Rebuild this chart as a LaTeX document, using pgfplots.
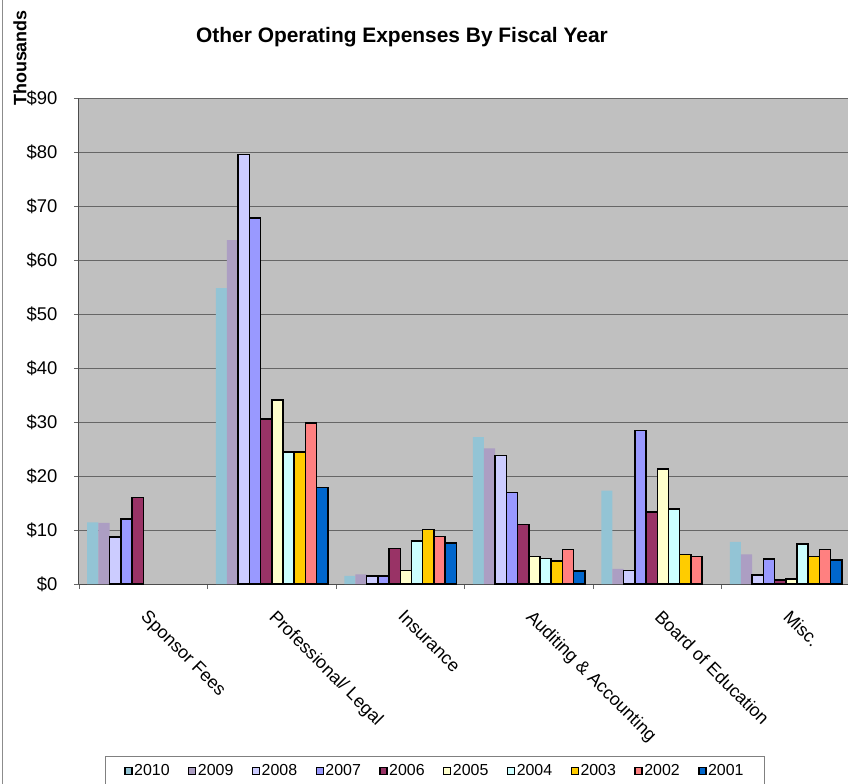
\documentclass[border=0pt]{standalone}
\usepackage{fontspec}
\setmainfont{Liberation Sans}
\usepackage{pgfplots}
\usepackage{pgfplotstable}
\pgfplotsset{compat=1.18}

\definecolor{c2010}{HTML}{93C4D5}
\definecolor{c2009}{HTML}{AC9EC3}
\definecolor{c2008}{HTML}{CCCCFF}
\definecolor{c2007}{HTML}{9999FF}
\definecolor{c2006}{HTML}{993366}
\definecolor{c2005}{HTML}{FFFFCC}
\definecolor{c2004}{HTML}{CCFFFF}
\definecolor{c2003}{HTML}{FFCC00}
\definecolor{c2002}{HTML}{FF8080}
\definecolor{c2001}{HTML}{0066CC}
\definecolor{plotbg}{HTML}{C0C0C0}

% thousands of dollars, one row per category
\pgfplotstableread{
cat y2010 y2009 y2008 y2007 y2006 y2005 y2004 y2003 y2002 y2001
0   11.4  11.3  8.7   12.0  16.0  nan   nan   nan   nan   nan
1   54.8  63.7  79.5  67.8  30.6  34.1  24.4  24.4  29.8  17.9
2   1.5   1.8   1.5   1.5   6.6   2.5   8.0   10.1  8.8   7.6
3   27.2  25.1  23.8  16.9  11.0  5.1   4.7   4.3   6.4   2.4
4   17.3  2.8   2.5   28.4  13.3  21.3  13.9  5.5   5.1   nan
5   7.8   5.5   1.7   4.6   0.7   0.9   7.4   5.1   6.4   4.4
}\expenses

\begin{document}
\begin{tikzpicture}[x=1bp,y=1bp]
\useasboundingbox (-79,-200) rectangle (769,584);
\begin{axis}[
  scale only axis, width=771bp, height=486bp,
  ybar=0pt, bar width=11.2bp,
  xmin=-0.5, xmax=5.5, ymin=0, ymax=90,
  axis x line*=bottom, axis y line*=left,
  axis line style={black!70, line width=1bp},
  axis background/.style={fill=plotbg},
  ymajorgrids, grid style={black!60, line width=0.9bp},
  tick align=outside, major tick length=5bp,
  tick style={black!60, line width=0.8bp},
  ytick={0,10,...,90},
  yticklabels={\$0,\$10,\$20,\$30,\$40,\$50,\$60,\$70,\$80,\$90},
  yticklabel style={font=\fontsize{18.5}{20}\selectfont, xshift=-13bp},
  xtick={-0.5,0.5,...,5.5},
  xticklabels={Sponsor Fees, Professional/ Legal, Insurance, Auditing \& Accounting, Board of Education, Misc., {}},
  xticklabel style={font=\fontsize{18}{20}\selectfont, anchor=north west, xshift=70bp, yshift=-15bp, rotate=-45},
  legend columns=10,
  legend image code/.code={\draw[#1, line width=1.3bp] (0bp,-3.5bp) rectangle (7bp,3.5bp);},
  legend style={at={(axis description cs:0.0337,-0.354)}, anchor=north west,
    draw=black!50, line width=0.8bp, font=\fontsize{16}{18}\selectfont,
    inner xsep=19bp, inner ysep=6bp,
    nodes={inner xsep=1.5bp, inner ysep=2bp},
    /tikz/every even column/.append style={column sep=17bp}},
]
\addplot[fill=c2010, draw=none] table[x=cat, y=y2010] {\expenses};
\addplot[fill=c2009, draw=none] table[x=cat, y=y2009] {\expenses};
\addplot[fill=c2008, draw=black, line width=1.5bp] table[x=cat, y=y2008] {\expenses};
\addplot[fill=c2007, draw=black, line width=1.5bp] table[x=cat, y=y2007] {\expenses};
\addplot[fill=c2006, draw=black, line width=1.5bp] table[x=cat, y=y2006] {\expenses};
\addplot[fill=c2005, draw=black, line width=1.5bp] table[x=cat, y=y2005] {\expenses};
\addplot[fill=c2004, draw=black, line width=1.5bp] table[x=cat, y=y2004] {\expenses};
\addplot[fill=c2003, draw=black, line width=1.5bp] table[x=cat, y=y2003] {\expenses};
\addplot[fill=c2002, draw=black, line width=1.5bp] table[x=cat, y=y2002] {\expenses};
\addplot[fill=c2001, draw=black, line width=1.5bp] table[x=cat, y=y2001] {\expenses};
\legend{2010,2009,2008,2007,2006,2005,2004,2003,2002,2001}
\end{axis}
\node[font=\fontsize{21}{24}\selectfont\bfseries] at (323,547) {Other Operating Expenses By Fiscal Year};
\node[rotate=90, font=\fontsize{18}{20}\selectfont\bfseries] at (-59,526) {Thousands};
\draw[black!45, line width=1bp] (-76,-200) -- (-76,584);
\end{tikzpicture}
\end{document}
